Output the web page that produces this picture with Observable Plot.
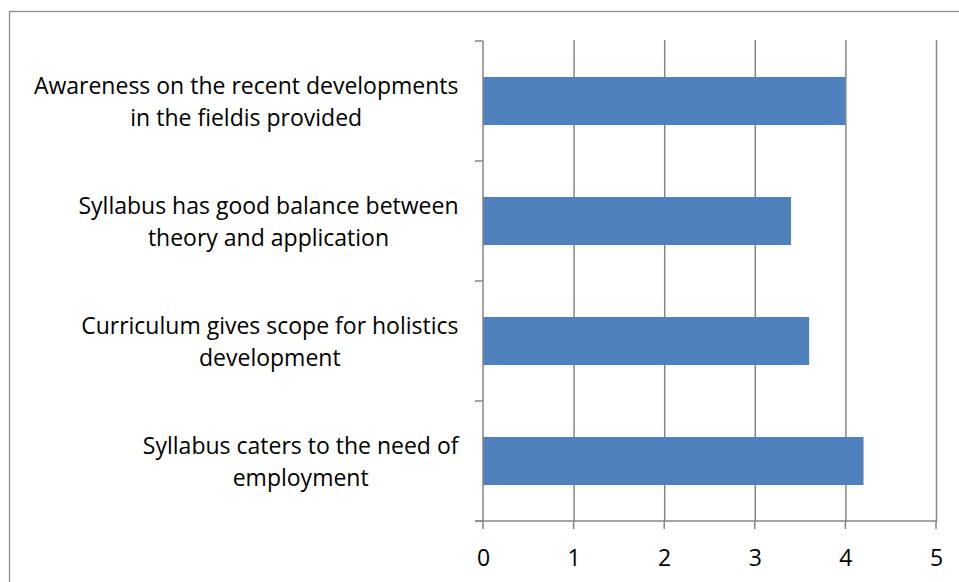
<!DOCTYPE html>
<html>
<head>
<meta charset="utf-8">
<script src="https://cdn.jsdelivr.net/npm/d3@7"></script>
<script src="https://cdn.jsdelivr.net/npm/@observablehq/plot@0.6"></script>
<style>
  html, body { margin: 0; padding: 0; background: #fff; }
  #chart { width: 959px; height: 582px; overflow: hidden; }
</style>
</head>
<body>
<div id="chart"></div>
<script>
const categories = [
  "Awareness on the recent developments\nin the fieldis provided",
  "Syllabus has good balance between\ntheory and application",
  "Curriculum gives scope for holistics\ndevelopment",
  "Syllabus caters to the need of\nemployment"
];
const values = [4.0, 3.4, 3.6, 4.2];
const xTicks = [0, 1, 2, 3, 4, 5];

const data = categories.map((c, i) => ({category: c, value: values[i]}));

const FONT = "Open Sans";
const FS = 23;
const GRID = "#868686";

const ctx = document.createElement("canvas").getContext("2d");
ctx.font = `${FS}px "${FONT}"`;
const blockWidth = (s) => d3.max(s.split("\n"), l => ctx.measureText(l).width);

function frame(index, scales, values, dims) {
  const {width, height, marginTop, marginBottom} = dims;
  const sx = scales.x, sy = scales.y;
  const n = categories.length;
  const step = typeof sy.step === "function" ? sy.step() : (height - marginTop - marginBottom) / n;
  const bw = typeof sy.bandwidth === "function" ? sy.bandwidth() : step * 0.4;
  const x0 = sx(0), x5 = sx(xTicks[xTicks.length - 1]);
  const bounds = categories.map(c => sy(c) + bw / 2 - step / 2);
  bounds.push(bounds[n - 1] + step);
  const yBot = bounds[n];
  const g = d3.create("svg:g");
  g.append("rect")
    .attr("x", 9.5).attr("y", 11.5)
    .attr("width", width + 20).attr("height", height + 20)
    .attr("fill", "none").attr("stroke", "#8e8e8e").attr("stroke-width", 1.3);
  g.append("line").attr("x1", x0).attr("x2", x0).attr("y1", bounds[0]).attr("y2", yBot)
    .attr("stroke", GRID).attr("stroke-width", 1.5);
  for (const b of bounds) {
    g.append("line").attr("x1", x0 - 8).attr("x2", x0).attr("y1", b).attr("y2", b)
      .attr("stroke", GRID).attr("stroke-width", 1.5);
  }
  g.append("line").attr("x1", x0 - 8).attr("x2", x5).attr("y1", yBot).attr("y2", yBot)
    .attr("stroke", GRID).attr("stroke-width", 1.5);
  for (const t of xTicks) {
    g.append("line").attr("x1", sx(t)).attr("x2", sx(t)).attr("y1", yBot).attr("y2", yBot + 8)
      .attr("stroke", GRID).attr("stroke-width", 1.5);
  }
  return g.node();
}

const labelMarks = categories.map(c => Plot.text([c], {
  y: d => d,
  text: d => d,
  frameAnchor: "left",
  textAnchor: "middle",
  dx: -(25 + blockWidth(c) / 2),
  dy: -2,
  lineHeight: 1.39,
  fontSize: FS,
  fill: "black"
}));

const chart = Plot.plot({
  width: 959,
  height: 582,
  marginLeft: 483,
  marginRight: 23,
  marginTop: 40,
  marginBottom: 60,
  style: {fontFamily: FONT, fontSize: FS + "px", background: "white", overflow: "visible"},
  x: {domain: [0, 5], axis: null},
  y: {domain: categories, paddingInner: 0.6, paddingOuter: 0.3, axis: null},
  marks: [
    Plot.ruleX(xTicks.filter(t => t > 0), {x: d => d, stroke: GRID, strokeWidth: 1.5}),
    Plot.barX(data, {x: "value", y: "category", fill: "#4F81BD"}),
    frame,
    Plot.axisX(xTicks, {tickSize: 0, tickPadding: 27, tickFormat: d => String(d), fontSize: FS, fill: "black", label: null}),
    ...labelMarks
  ]
});
document.getElementById("chart").appendChild(chart);
</script>
</body>
</html>
